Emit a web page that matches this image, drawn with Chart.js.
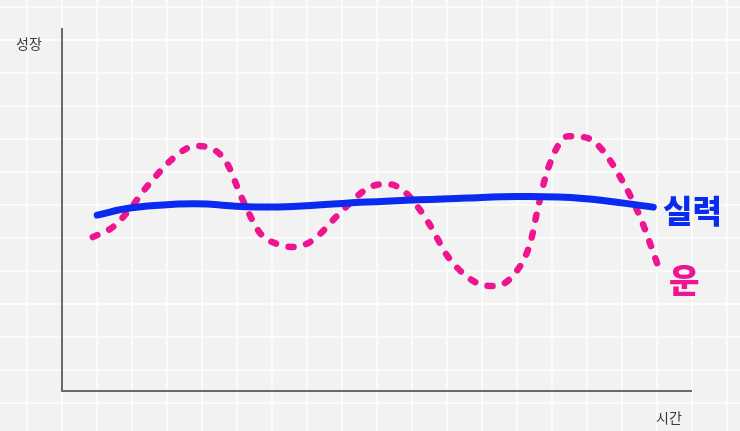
<!DOCTYPE html>
<html>
<head>
<meta charset="utf-8">
<script src="https://cdn.jsdelivr.net/npm/chart.js@4/dist/chart.umd.min.js"></script>
<style>
  html, body { margin: 0; padding: 0; }
  body {
    width: 740px; height: 431px; overflow: hidden; position: relative;
    background-color: #f2f2f2;
    background-image:
      linear-gradient(to right, #fbfbfb 2px, transparent 2px),
      linear-gradient(to bottom, #fbfbfb 2px, transparent 2px);
    background-size: 35px 33px;
    background-position: 26px 6px;
    font-family: "Noto Sans CJK KR", "Noto Sans", sans-serif;
  }
  #wrap { position: absolute; left: 0; top: 0; width: 740px; height: 431px; }
  .lbl { position: absolute; white-space: nowrap; line-height: 1; }
  #yTitle { left: 16px; top: 36px; font-size: 14px; color: #3a3a3a; }
  #xTitle { left: 656px; top: 410px; font-size: 14px; color: #3a3a3a; }
  #skillLbl { left: 663px; top: 193px; font-size: 32px; font-weight: 900; color: #0a2af0; }
  #luckLbl { left: 669px; top: 263px; font-size: 33px; font-weight: 900; color: #ee1590; }
</style>
</head>
<body>
<div id="wrap"><canvas id="c" width="740" height="431"></canvas></div>
<div class="lbl" id="yTitle">성장</div>
<div class="lbl" id="xTitle">시간</div>
<div class="lbl" id="skillLbl">실력</div>
<div class="lbl" id="luckLbl">운</div>
<script>
// Axis labels / series names
const axisLabels = { x: "시간", y: "성장" };
const seriesNames = ["실력", "운"];

// 실력 (skill): time (0-100) and growth (0-100)
const skillTime   = [5.6, 11.1, 20.8, 29.4, 36.7, 48.5, 64.4, 72.8, 82.8, 94.0];
const skillGrowth = [48.6, 50.6, 51.7, 50.9, 51.0, 52.2, 53.3, 53.7, 53.2, 50.8];

// 운 (luck): time (0-100) and growth (0-100)
const luckTime   = [4.9, 8.1, 10.3, 14.0, 18.3, 21.1, 23.9, 26.2, 28.6, 31.5, 34.2, 37.0, 39.9, 44.2, 48.7, 51.7, 54.5, 58.2, 61.4, 66.0, 68.8, 71.5, 74.4, 75.7, 77.3, 80.5, 83.5, 85.9, 89.2, 91.9, 95.1];
const luckGrowth = [42.5, 45.3, 49.2, 57.5, 65.2, 67.7, 66.9, 63.0, 53.3, 43.6, 40.6, 39.8, 41.7, 49.2, 56.1, 57.2, 55.0, 46.7, 37.0, 29.8, 29.0, 31.5, 40.6, 50.8, 61.6, 70.4, 69.9, 66.6, 57.7, 48.1, 32.9];

const zip = (xs, ys) => xs.map((x, i) => ({ x: x, y: ys[i] }));

new Chart(document.getElementById('c'), {
  type: 'line',
  data: {
    datasets: [
      {
        label: seriesNames[0],
        data: zip(skillTime, skillGrowth),
        borderColor: '#0a2af0',
        borderWidth: 7,
        borderCapStyle: 'round',
        borderJoinStyle: 'round',
        tension: 0.4,
        pointRadius: 0,
        clip: false
      },
      {
        label: seriesNames[1],
        data: zip(luckTime, luckGrowth),
        borderColor: '#ee1590',
        borderWidth: 6.5,
        borderDash: [5, 13],
        borderCapStyle: 'round',
        borderJoinStyle: 'round',
        cubicInterpolationMode: 'monotone',
        pointRadius: 0,
        clip: false
      }
    ]
  },
  options: {
    responsive: false,
    animation: false,
    events: [],
    layout: { padding: { left: 62, right: 49, top: 29, bottom: 40 } },
    plugins: { legend: { display: false }, tooltip: { enabled: false } },
    scales: {
      x: {
        type: 'linear', min: 0, max: 100,
        grid: { display: false, drawTicks: false },
        ticks: { display: false },
        border: { display: true, color: '#6a6a6a', width: 2 }
      },
      y: {
        type: 'linear', min: 0, max: 100,
        grid: { display: false, drawTicks: false },
        ticks: { display: false },
        border: { display: true, color: '#6a6a6a', width: 2 }
      }
    }
  }
});
</script>
</body>
</html>
